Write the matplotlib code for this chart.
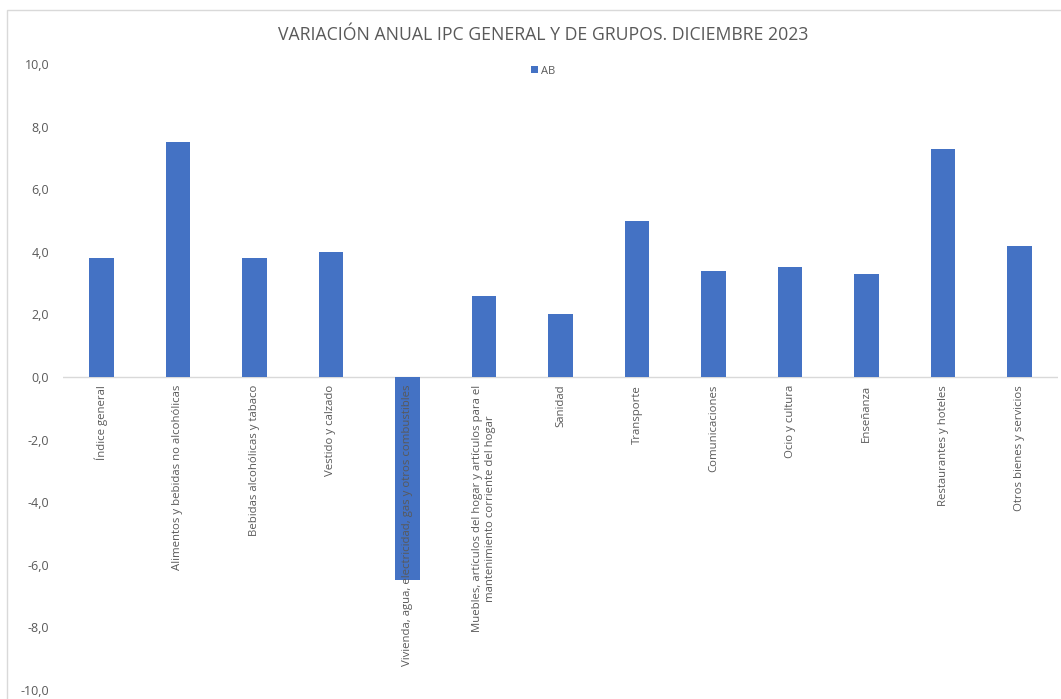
import matplotlib.pyplot as plt
from matplotlib.patches import Rectangle

plt.rcParams['font.family'] = ['Open Sans', 'DejaVu Sans']

categorias = [
    'Índice general',
    'Alimentos y bebidas no alcohólicas',
    'Bebidas alcohólicas y tabaco',
    'Vestido y calzado',
    'Vivienda, agua, electricidad, gas y otros combustibles',
    'Muebles, artículos del hogar y artículos para el\nmantenimiento corriente del hogar',
    'Sanidad',
    'Transporte',
    'Comunicaciones',
    'Ocio y cultura',
    'Enseñanza',
    'Restaurantes y hoteles',
    'Otros bienes y servicios',
]
valores_ab = [3.8, 7.5, 3.8, 4.0, -6.5, 2.6, 2.0, 5.0, 3.4, 3.5, 3.3, 7.3, 4.2]
yticks = [-10, -8, -6, -4, -2, 0, 2, 4, 6, 8, 10]

gris = '#595959'
azul = '#4472C4'

fig = plt.figure(figsize=(10.61, 6.99), dpi=100)
# marco del gráfico
fig.patches.append(Rectangle((7 / 1061, -0.01), 1.1, (699 - 10) / 699 + 0.01,
                             transform=fig.transFigure, fill=False,
                             edgecolor='#d9d9d9', lw=1))
ax = fig.add_axes([63 / 1061, 9 / 699, (1058 - 63) / 1061, (690 - 64) / 699])

x = range(len(categorias))
ax.bar(x, valores_ab, width=0.32, color=azul, label='AB', zorder=2)
ax.axhline(0, color='#d9d9d9', lw=1, zorder=1)

ax.set_xlim(-0.5, len(categorias) - 0.5)
ax.set_ylim(-10, 10)
ax.set_yticks(yticks)
ax.set_yticklabels([f'{v:.1f}'.replace('.', ',') for v in yticks])
ax.tick_params(axis='y', length=0, pad=10, labelsize=9, labelcolor=gris)
ax.set_xticks([])
for s in ax.spines.values():
    s.set_visible(False)

for i, lab in enumerate(categorias):
    ax.text(i, -0.25, lab, rotation=90, ha='center', va='top',
            multialignment='center', fontsize=8.2, color=gris, zorder=3)

fig.text(0.512, 1 - 35 / 699, 'VARIACIÓN ANUAL IPC GENERAL Y DE GRUPOS. DICIEMBRE 2023',
         ha='center', va='center', fontsize=12.7, color=gris)
ax.legend(loc='upper center', bbox_to_anchor=(0.483, 1.013), frameon=False,
          fontsize=8, labelcolor=gris, handlelength=0.6, handleheight=0.6,
          handletextpad=0.3)

fig.savefig('out.png', dpi=100)
